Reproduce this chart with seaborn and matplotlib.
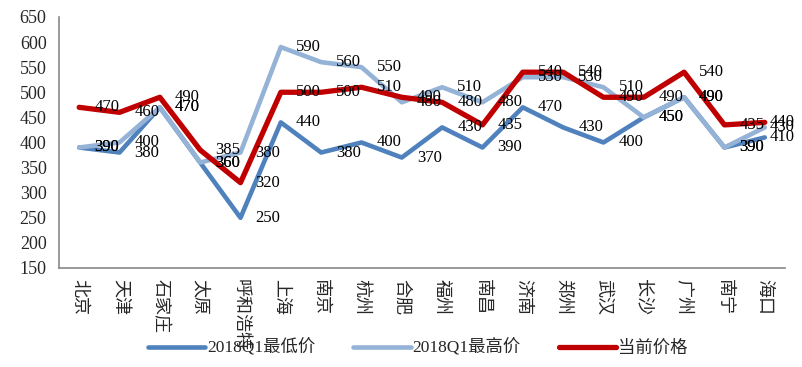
import numpy as np
import pandas as pd
from matplotlib import pyplot as plt
import seaborn as sns

# Chart data
cities = ['北京', '天津', '石家庄', '太原', '呼和浩特', '上海', '南京', '杭州', '合肥',
          '福州', '南昌', '济南', '郑州', '武汉', '长沙', '广州', '南宁', '海口']
low_price = [390, 380, 470, 360, 250, 440, 380, 400, 370, 430, 390, 470, 430, 400, 450, 490, 390, 410]
high_price = [390, 400, 470, 360, 380, 590, 560, 550, 480, 510, 480, 530, 530, 510, 450, 490, 390, 430]
current_price = [470, 460, 490, 385, 320, 500, 500, 510, 490, 480, 435, 540, 540, 490, 490, 540, 435, 440]
series_names = ['2018Q1最低价', '2018Q1最高价', '当前价格']
y_ticks = list(range(150, 651, 50))

df = pd.DataFrame({
    'city': cities * 3,
    'pos': list(range(len(cities))) * 3,
    'value': low_price + high_price + current_price,
    'series': np.repeat(series_names, len(cities)),
})

sns.set_style("white")
plt.rcParams['font.family'] = ['Liberation Serif', 'Noto Sans CJK SC']
plt.rcParams['axes.unicode_minus'] = False

palette = {'2018Q1最低价': '#4F81BD', '2018Q1最高价': '#95B3D7', '当前价格': '#C00000'}
widths = {'2018Q1最低价': 3.3, '2018Q1最高价': 3.3, '当前价格': 3.8}

fig = plt.figure(figsize=(8.03, 3.67), dpi=100)
ax = fig.add_axes([0.0735, 0.2698, 0.904, 0.684])

for name in series_names:
    sub = df[df['series'] == name]
    sns.lineplot(data=sub, x='pos', y='value', color=palette[name], lw=widths[name],
                 label=name, ax=ax, sort=False, legend=False)

# data labels to the right of each point (last column pulled in to stay on canvas)
last = len(cities) - 1
for name in series_names:
    sub = df[df['series'] == name]
    for x, v in zip(sub['pos'], sub['value']):
        dx = 5 if x == last else 15
        ax.annotate(str(v), (x, v), xytext=(dx, 0), textcoords='offset pixels',
                    ha='left', va='center', fontsize=12, family='Liberation Serif',
                    color='black')

ax.set_xlim(-0.5, len(cities) - 0.5)
ax.set_ylim(150, 650)
ax.set_yticks(y_ticks)
ax.set_yticklabels([str(t) for t in y_ticks], fontsize=13, family='Liberation Serif')
ax.set_xticks(range(len(cities)))
ax.set_xticklabels(cities, rotation=-90, fontsize=13, family='Noto Sans CJK SC',
                   va='top', ha='center')
ax.set_xticks(np.arange(-0.5, len(cities), 1), minor=True)
ax.tick_params(axis='x', which='major', length=0, pad=8)
ax.tick_params(axis='x', which='minor', length=5, color='#888888', direction='out')
ax.tick_params(axis='y', length=5, color='#888888', direction='out', pad=4)
ax.set_xlabel('')
ax.set_ylabel('')

for side in ['top', 'right']:
    ax.spines[side].set_visible(False)
for side in ['left', 'bottom']:
    ax.spines[side].set_color('#888888')
    ax.spines[side].set_linewidth(1.2)

handles = [plt.Line2D([], [], color=palette[n], lw=widths[n]) for n in series_names]
fig.legend(handles, series_names, loc='lower center', bbox_to_anchor=(0.52, -0.015),
           ncol=3, frameon=False, fontsize=12.5, handlelength=3.3, handletextpad=0.1,
           columnspacing=2.2)

fig.savefig('out.png', dpi=100)
